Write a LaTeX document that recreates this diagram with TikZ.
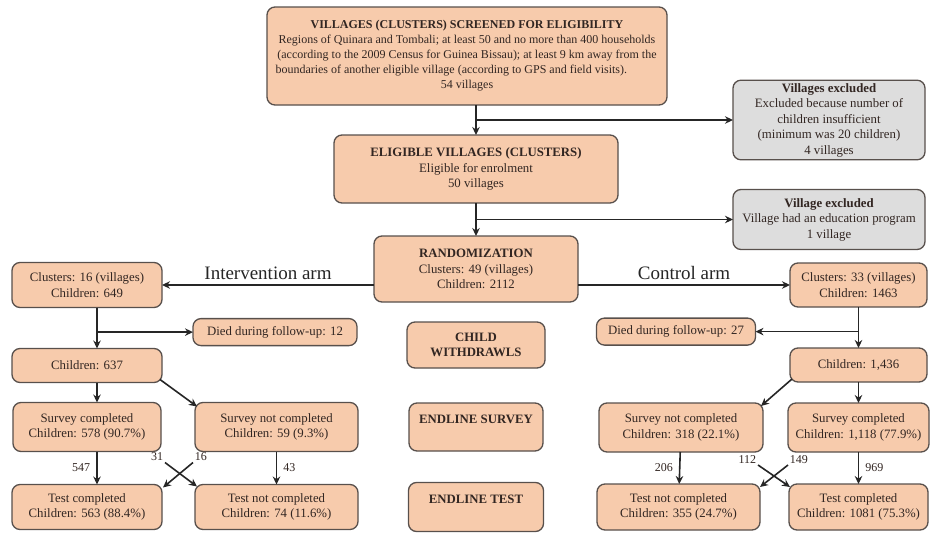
\documentclass[tikz,border=0pt]{standalone}
\usepackage{fontspec}
\setmainfont{Liberation Serif}
\usetikzlibrary{arrows.meta, positioning, calc}
\definecolor{colBox}{RGB}{247,203,172}
\definecolor{colGrey}{RGB}{221,221,221}
\definecolor{colEdge}{RGB}{88,80,76}
\definecolor{colInk}{RGB}{50,38,34}
\tikzset{
  % shared base
  flow/.style={
    rectangle, rounded corners=8pt,
    draw=colEdge, line width=1.3pt,
    fill=#1, text=colInk,
    inner sep=3pt, outer sep=0pt,
    font=\fontsize{12.8}{15.5}\selectfont, align=center,
  },
  dims/.style 2 args={minimum width=#1, minimum height=#2},
  % per-kind shortcuts
  sMain/.style={flow=colBox},
  sExcl/.style={flow=colGrey},
  sTag/.style ={flow=colBox, font=\fontsize{12.8}{15.5}\selectfont\bfseries},
  % arrows and labels
  mainArr/.style={-{Stealth[length=8pt,width=7.5pt]}, line width=1.6pt, draw=black!85},
  numLbl/.style ={font=\fontsize{12}{14}\selectfont, text=colInk, inner sep=2pt},
  armLbl/.style ={font=\fontsize{19}{22}\selectfont, text=black!85},
}

\begin{document}
\begin{tikzpicture}
\useasboundingbox (0,0) rectangle (930pt,-533pt);

% ---------------------------------------------------------------
%  Screening and randomization (centre column)
% ---------------------------------------------------------------
\node[sMain, dims={400pt}{98pt}, font=\fontsize{12}{15}\selectfont]
  (screen) at (467pt,-56pt) {%
  \textbf{VILLAGES (CLUSTERS) SCREENED FOR ELIGIBILITY}\\
  Regions of Quinara and Tombali; at least 50 and no more than 400 households\\
  (according to the 2009 Census for Guinea Bissau); at least 9 km away from the\\
  \makebox[383pt][l]{boundaries of another eligible village (according to GPS and field visits).}\\
  54 villages};

\node[sMain, dims={284pt}{68pt}, below=30pt of screen, xshift=9pt] (elig) {%
  \textbf{ELIGIBLE VILLAGES (CLUSTERS)}\\
  Eligible for enrolment\\
  50 villages};

\node[sMain, dims={204pt}{66pt}, below=33pt of elig] (rand) {%
  \textbf{RANDOMIZATION}\\
  Clusters: 49 (villages)\\
  Children: 2112};

% exclusions
\coordinate (cutA) at ($(elig.north)+(0,15pt)$);
\node[sExcl, dims={192pt}{76pt}, right=257pt of cutA] (exclA) {%
  \textbf{Villages excluded}\\
  Excluded because number of\\
  children insufficient\\
  (minimum was 20 children)\\
  4 villages};

\coordinate (cutB) at ($(elig.south)!0.5!(rand.north)$);
\node[sExcl, dims={192pt}{60pt}, right=257pt of cutB] (exclB) {%
  \textbf{Village excluded}\\
  Village had an education program\\
  1 village};

% phase tags
\node[sTag, dims={138pt}{46pt}, below=20pt of rand] (withdraw) {CHILD\\ WITHDRAWLS};

% ---------------------------------------------------------------
%  Intervention arm (left)
% ---------------------------------------------------------------
\coordinate (armL) at ($(rand.west)+(0,-16pt)$);
\node[sMain, dims={150pt}{45pt}, left=212pt of armL] (clusL) {%
  Clusters: 16 (villages)\\ Children: 649};
\node[sMain, dims={150pt}{34pt}, below=41pt of clusL] (kidsL) {Children: 637};
\node[sMain, dims={148pt}{49pt}, below=20pt of kidsL] (survL) {%
  Survey completed\\ Children: 578 (90.7\%)};
\node[sMain, dims={150pt}{45pt}, below=33pt of survL] (testL) {%
  Test completed\\ Children: 563 (88.4\%)};
\node[sMain, dims={163pt}{49pt}, right=34pt of survL] (nosurvL) {%
  Survey not completed\\ Children: 59 (9.3\%)};
\node[sMain, dims={163pt}{45pt}, right=33pt of testL] (notestL) {%
  Test not completed\\ Children: 74 (11.6\%)};

\coordinate (cutL) at ($([xshift=10pt]clusL.south)!0.6!([xshift=10pt]kidsL.north)$);
\node[sMain, dims={164pt}{27pt}, right=96pt of cutL] (diedL) {Died during follow-up: 12};

% ---------------------------------------------------------------
%  Control arm (right)
% ---------------------------------------------------------------
\coordinate (armR) at ($(rand.east)+(0,-16pt)$);
\node[sMain, dims={137pt}{44pt}, right=212pt of armR] (clusR) {%
  Clusters: 33 (villages)\\ Children: 1463};
\node[sMain, dims={137pt}{34pt}, below=41pt of clusR] (kidsR) {Children: 1,436};
\node[sMain, dims={141pt}{49pt}, below=21pt of kidsR] (survR) {%
  Survey completed\\ Children: 1,118 (77.9\%)};
\node[sMain, dims={139pt}{46pt}, below=32pt of survR] (testR) {%
  Test completed\\ Children: 1081 (75.3\%)};
\node[sMain, dims={164pt}{49pt}, left=25pt of survR] (nosurvR) {%
  Survey not completed\\ Children: 318 (22.1\%)};
\node[sMain, dims={163pt}{46pt}, left=29pt of testR] (notestR) {%
  Test not completed\\ Children: 355 (24.7\%)};

\coordinate (cutR) at ($(clusR.south)!0.6!(kidsR.north)$);
\node[sMain, dims={159pt}{27pt}, left=103pt of cutR] (diedR) {Died during follow-up: 27};

% phase tags aligned with the rows
\node[sTag, dims={134pt}{48pt}, text height=9pt, text depth=16pt]
  (endSurvey) at (rand |- survL) {ENDLINE SURVEY};
\node[sTag, dims={135pt}{49pt}, text height=9pt, text depth=16pt]
  (endTest) at (rand |- testL) {ENDLINE TEST};

% ---------------------------------------------------------------
%  Connectors
% ---------------------------------------------------------------
\draw[mainArr] (screen.south -| elig.north) -- (elig.north);
\draw[mainArr] (cutA) -- (exclA.west);
\draw[mainArr] (elig) -- (rand);
\draw[mainArr] (cutB) -- (exclB.west);

\draw[mainArr] (armL) -- node[armLbl, above=1pt] {Intervention arm} (clusL.east);
\draw[mainArr] (armR) -- node[armLbl, above=1pt] {Control arm} (clusR.west);

% left arm
\draw[mainArr] ([xshift=10pt]clusL.south) -- ([xshift=10pt]kidsL.north);
\draw[mainArr] (cutL) -- (diedL.west);
\draw[mainArr] ([xshift=10pt]kidsL.south) -- ([xshift=10pt]survL.north);
\draw[mainArr] ($(kidsL.south east)+(-2pt,3pt)$) -- ($(nosurvL.north west)+(2pt,-4pt)$);
\draw[mainArr] ([xshift=10pt]survL.south) -- node[numLbl, left=4pt] {547} ([xshift=10pt]testL.north);
\draw[mainArr] (nosurvL) -- node[numLbl, right=4pt] {43} (notestL);
\draw[mainArr] ($(survL.south east)+(4pt,-11pt)$)
  node[numLbl, anchor=south east, inner sep=1pt] {31}
  -- ($(notestL.north west)+(2pt,-2pt)$);
\draw[mainArr] ($(nosurvL.south west)+(-2pt,-11pt)$)
  node[numLbl, anchor=south west, inner sep=1pt] {16}
  -- ($(testL.north east)+(1pt,-3pt)$);

% right arm
\draw[mainArr] (clusR) -- (kidsR);
\draw[mainArr] (cutR) -- (diedR.east);
\draw[mainArr] (kidsR) -- (survR);
\draw[mainArr] ($(kidsR.south west)+(2pt,3pt)$) -- ($(nosurvR.north east)+(-2pt,-3pt)$);
\draw[mainArr] (nosurvR) -- node[numLbl, left=4pt] {206} (notestR);
\draw[mainArr] (survR) -- node[numLbl, right=4pt] {969} (testR);
\draw[mainArr] ($(nosurvR.south east)+(-5pt,-13pt)$)
  node[numLbl, anchor=south east, inner sep=1pt] {112}
  -- ($(testR.north west)+(1pt,-3pt)$);
\draw[mainArr] ($(survR.south west)+(0pt,-13pt)$)
  node[numLbl, anchor=south west, inner sep=1pt] {149}
  -- ($(notestR.north east)+(0pt,-3pt)$);

\end{tikzpicture}
\end{document}
